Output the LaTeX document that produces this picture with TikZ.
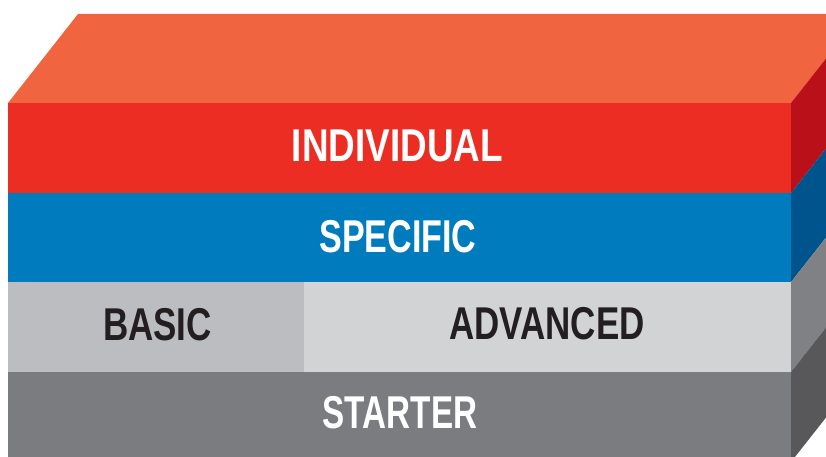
\documentclass[tikz,border=0pt]{standalone}
\usepackage{graphicx}
\usepackage{fontspec}
\setmainfont[FakeStretch=0.76]{Liberation Sans}
\definecolor{topc}{HTML}{F06440}
\definecolor{redf}{HTML}{EC2D24}
\definecolor{reds}{HTML}{BA1019}
\definecolor{bluef}{HTML}{007BBD}
\definecolor{blues}{HTML}{00548D}
\definecolor{basicc}{HTML}{BCBDC0}
\definecolor{advc}{HTML}{D2D3D5}
\definecolor{advs}{HTML}{808184}
\definecolor{startf}{HTML}{7B7C7F}
\definecolor{starts}{HTML}{58585A}
\definecolor{darktxt}{HTML}{231F20}
\tikzset{
  lbl/.style={inner sep=0pt, font=\fontsize{46}{46}\selectfont\bfseries},
  wlbl/.style={lbl, text=white},
  dlbl/.style={lbl, text=darktxt},
}
\begin{document}
\begin{tikzpicture}[x=1pt,y=-1pt]
\useasboundingbox (0,0) rectangle (826,457);
\clip (0,0) rectangle (826,457);
% top face
\fill[topc] (8,103) -- (78,14) -- (861,14) -- (791,103) -- cycle;
% side faces
\fill[reds] (791,103) -- (861,14) -- (861,104) -- (791,193) -- cycle;
\fill[blues] (791,193) -- (861,104) -- (861,193) -- (791,282) -- cycle;
\fill[advs] (791,282) -- (861,193) -- (861,283) -- (791,372) -- cycle;
\fill[starts] (791,372) -- (861,283) -- (861,373) -- (791,462) -- cycle;
% front faces
\fill[redf] (8,103) rectangle (791,193);
\fill[bluef] (8,193) rectangle (791,282);
\fill[basicc] (8,282) rectangle (304,372);
\fill[advc] (304,282) rectangle (791,372);
\fill[startf] (8,372) rectangle (791,462);
% labels
\node[wlbl] (individual) at (397.5,145.5) {\scalebox{1.055}[1]{INDIVIDUAL}};
\node[wlbl] (specific) at (398,236.7) {\scalebox{0.975}[1]{SPECIFIC}};
\node[dlbl] (basic) at (157.5,325) {BASIC};
\node[dlbl] (advanced) at (547,324) {ADVANCED};
\node[wlbl] (starter) at (400,412.5) {\scalebox{0.95}[1]{STARTER}};
\end{tikzpicture}
\end{document}
